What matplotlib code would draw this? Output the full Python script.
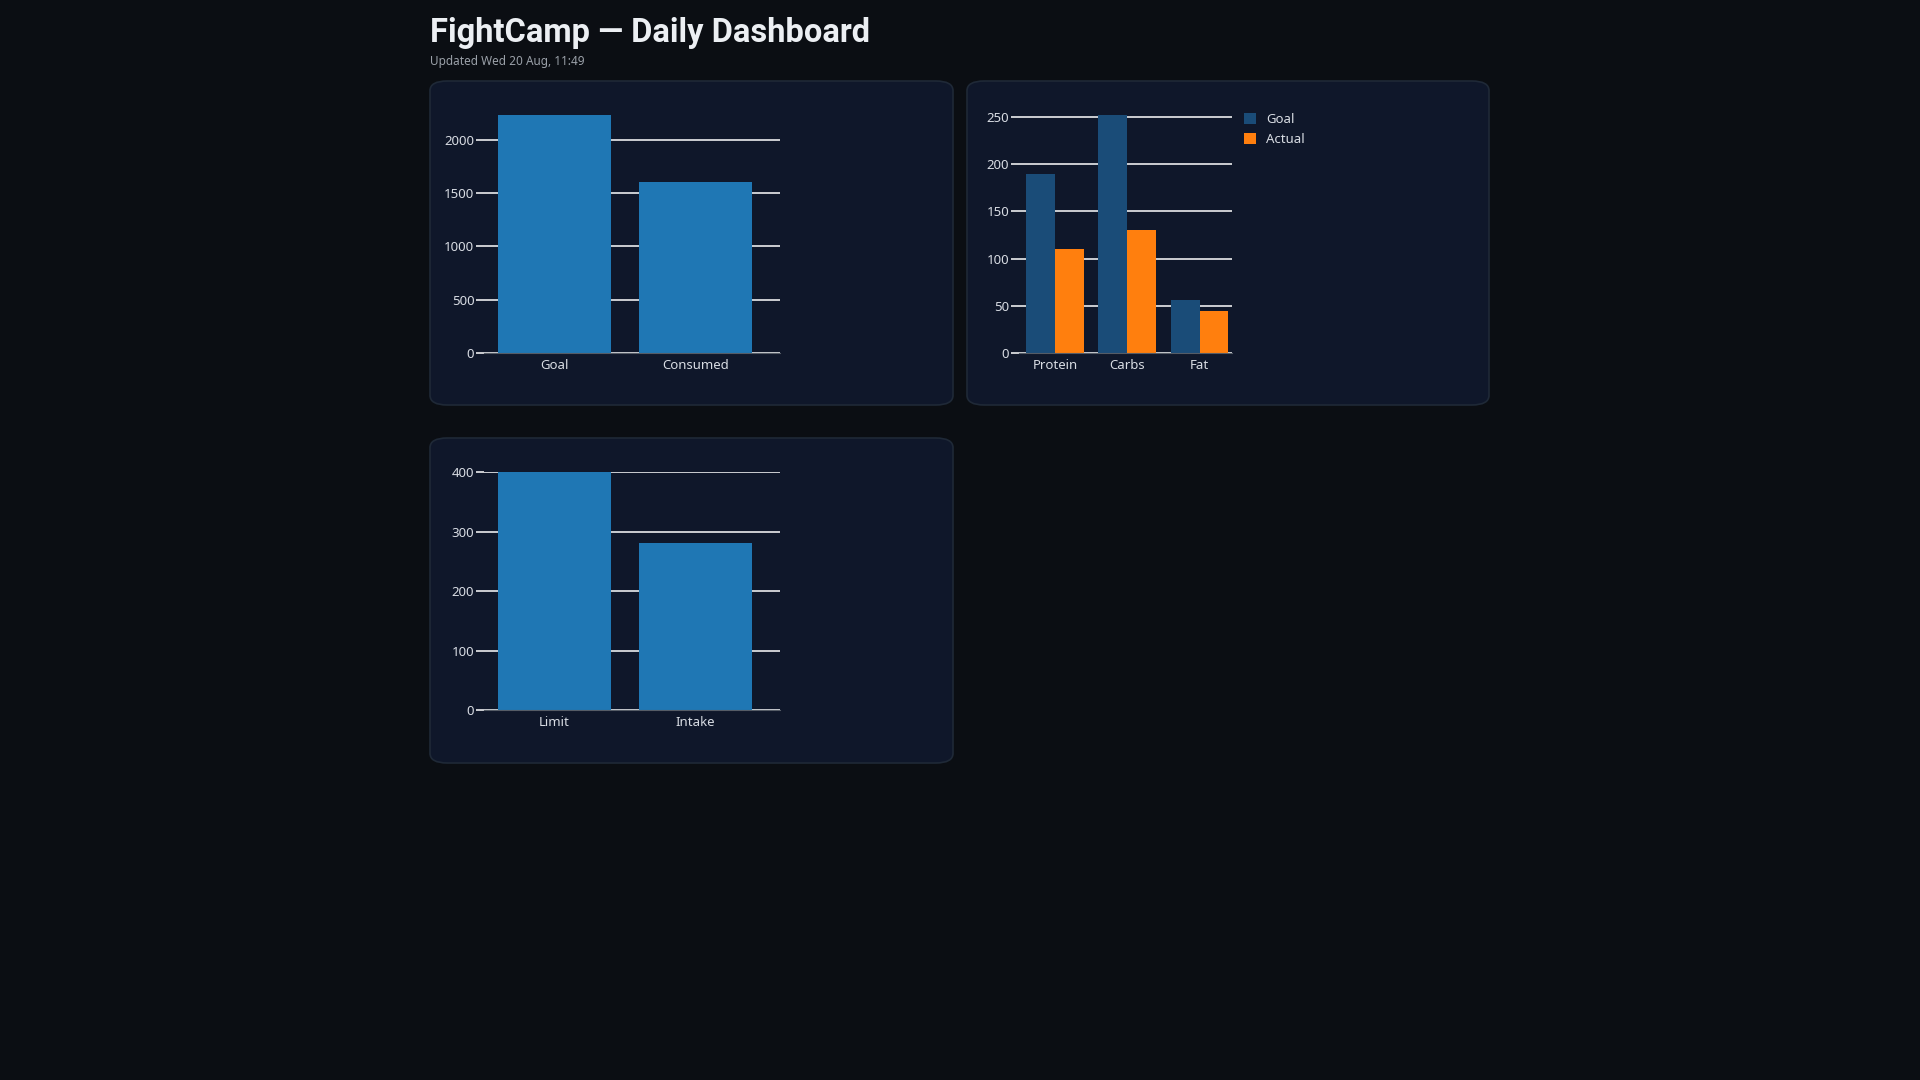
import matplotlib.pyplot as plt
from matplotlib.patches import FancyBboxPatch

# Data
cal_labels = ["Goal", "Consumed"]
cal_values = [2230, 1600]
macro_labels = ["Protein", "Carbs", "Fat"]
macro_goal = [190, 252, 56]
macro_actual = [110, 130, 45]
sugar_labels = ["Limit", "Intake"]
sugar_values = [400, 280]

BG = "#0b0e13"
PANEL = "#0f172a"
BORDER = "#1f2937"
TXT = "#d8dce3"

plt.rcParams["font.family"] = "Noto Sans"

W, H = 1920, 1080
fig = plt.figure(figsize=(19.2, 10.8), dpi=100, facecolor=BG)


def px_axes(x0, y0, x1, y1):
    ax = fig.add_axes([x0 / W, 1 - y1 / H, (x1 - x0) / W, (y1 - y0) / H])
    ax.set_zorder(5)
    return ax


def panel(x0, y0, x1, y1):
    p = FancyBboxPatch((x0 / W, 1 - y1 / H), (x1 - x0) / W, (y1 - y0) / H,
                       boxstyle="round,pad=0,rounding_size=0.009",
                       transform=fig.transFigure, facecolor=PANEL,
                       edgecolor=BORDER, linewidth=1.2, zorder=-1)
    fig.patches.append(p)


def style(ax, ticks):
    ax.set_facecolor("none")
    for s in ["top", "right", "left"]:
        ax.spines[s].set_visible(False)
    ax.spines["bottom"].set_color("#555c66")
    ax.set_yticks(ticks)
    ax.yaxis.grid(True, color="white", linewidth=1.1, zorder=0)
    ax.set_axisbelow(True)
    ax.tick_params(axis="y", colors=TXT, labelsize=9.5, length=6, width=1.1, color="white", pad=1)
    ax.tick_params(axis="x", colors=TXT, labelsize=9.5, length=0, pad=4)


fig.text(430 / W, 1 - 33 / H, "FightCamp — Daily Dashboard", fontsize=23.5,
         fontweight="bold", family="Roboto", color="#eceff3", va="center")
fig.text(430 / W, 1 - 62 / H, "Updated Wed 20 Aug, 11:49", fontsize=8.5,
         color="#9aa0a8", va="center")

panel(430, 81, 953, 405)
panel(967, 81, 1489, 405)
panel(430, 438, 953, 763)

# Calories
ax1 = px_axes(484, 115, 780, 353)
ax1.bar(cal_labels, cal_values, width=0.8, color="#1f77b4", zorder=2)
ax1.set_ylim(0, max(cal_values))
ax1.set_xlim(-0.5, 1.6)
style(ax1, [0, 500, 1000, 1500, 2000])

# Macros
ax2 = px_axes(1019, 115, 1232, 353)
xs = range(len(macro_labels))
ax2.bar([x - 0.2 for x in xs], macro_goal, width=0.4, color="#1a4c78", label="Goal", zorder=2)
ax2.bar([x + 0.2 for x in xs], macro_actual, width=0.4, color="#ff7f0e", label="Actual", zorder=2)
ax2.set_xticks(list(xs))
ax2.set_xticklabels(macro_labels)
ax2.set_ylim(0, max(macro_goal))
ax2.set_xlim(-0.5, 2.45)
style(ax2, [0, 50, 100, 150, 200, 250])
ax2.legend(loc="upper left", bbox_to_anchor=(1.03, 1.03), frameon=False,
           labelcolor=TXT, fontsize=9.5, handlelength=0.9, handleheight=0.9,
           borderaxespad=0)

# Sugar
ax3 = px_axes(484, 472, 780, 710)
ax3.bar(sugar_labels, sugar_values, width=0.8, color="#1f77b4", zorder=2)
ax3.set_ylim(0, max(sugar_values))
ax3.set_xlim(-0.5, 1.6)
style(ax3, [0, 100, 200, 300, 400])

fig.savefig("out.png", dpi=100, facecolor=BG)
